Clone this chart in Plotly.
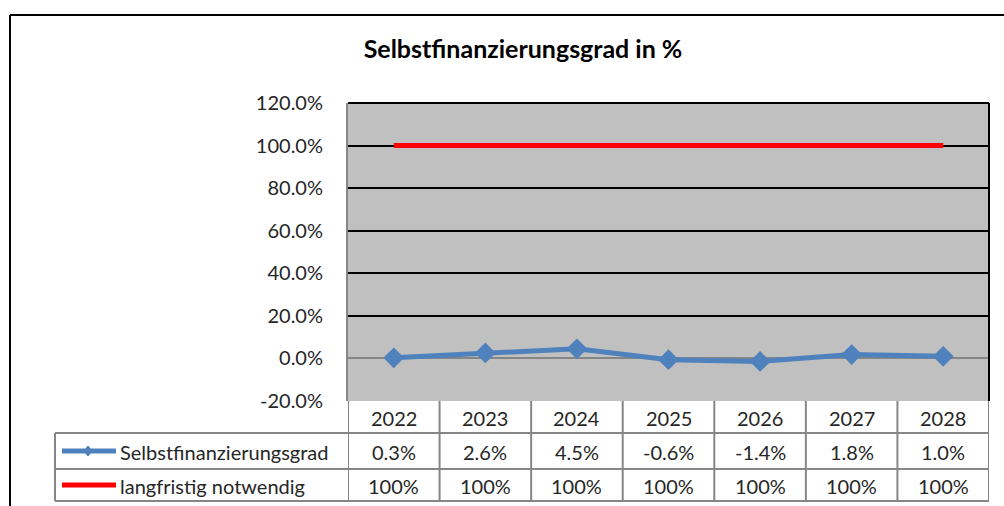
import plotly.graph_objects as go

years = ["2022", "2023", "2024", "2025", "2026", "2027", "2028"]
selbst = [0.3, 2.6, 4.5, -0.6, -1.4, 1.8, 1.0]
langfristig = [100, 100, 100, 100, 100, 100, 100]
selbst_labels = ["0.3%", "2.6%", "4.5%", "-0.6%", "-1.4%", "1.8%", "1.0%"]
lang_labels = ["100%", "100%", "100%", "100%", "100%", "100%", "100%"]
series_names = ["Selbstfinanzierungsgrad", "langfristig notwendig"]
title = "Selbstfinanzierungsgrad in %"
yticks = [-20, 0, 20, 40, 60, 80, 100, 120]

W, H = 1004, 506
L, R, T, B = 348, 989, 103, 401
PW, PH = R - L, B - T

def px(x):
    return (x - L) / PW

def py(y):
    return (B - y) / PH

BLUE = "#4F81BD"
RED = "#FF0000"
GRID_GRAY = "#868686"
TXT = "#262626"
FONT = "Lato, Carlito, Calibri, sans-serif"

xs = list(range(len(years)))

fig = go.Figure()
fig.add_trace(go.Scatter(x=xs, y=langfristig, mode="lines", line=dict(color=RED, width=5),
                         name=series_names[1], showlegend=False))
fig.add_trace(go.Scatter(x=xs, y=selbst, mode="lines+markers", line=dict(color=BLUE, width=5),
                         marker=dict(symbol="diamond", size=16, color=BLUE),
                         name=series_names[0], showlegend=False))

shapes = []
annotations = []

# outer chart border (left and top edges visible)
shapes.append(dict(type="line", xref="paper", yref="paper", x0=px(10), x1=px(1004),
                   y0=py(15), y1=py(15), line=dict(color="black", width=2)))
shapes.append(dict(type="line", xref="paper", yref="paper", x0=px(10), x1=px(10),
                   y0=py(15), y1=py(506), line=dict(color="black", width=2)))
# plot area top and right border
shapes.append(dict(type="line", xref="paper", yref="paper", x0=0, x1=1, y0=1, y1=1,
                   line=dict(color="black", width=2)))
shapes.append(dict(type="line", xref="paper", yref="paper", x0=1, x1=1, y0=0, y1=1,
                   line=dict(color="black", width=2)))

# data table lines
tl = dict(color=GRID_GRAY, width=2)
row_lines = [433, 469, 501]
for ry in row_lines:
    shapes.append(dict(type="line", xref="paper", yref="paper", x0=px(55), x1=1,
                       y0=py(ry), y1=py(ry), line=tl))
shapes.append(dict(type="line", xref="paper", yref="paper", x0=px(55), x1=px(55),
                   y0=py(433), y1=py(501), line=tl))
for i in range(len(years) + 1):
    shapes.append(dict(type="line", xref="x", yref="paper", x0=i - 0.5, x1=i - 0.5,
                       y0=py(501), y1=0, line=tl))

# legend keys
for ry, col in [(451, BLUE), (485, RED)]:
    shapes.append(dict(type="line", xref="paper", yref="paper", x0=px(62), x1=px(116),
                       y0=py(ry), y1=py(ry), line=dict(color=col, width=5)))
shapes.append(dict(type="path", xref="paper", yref="paper",
                   path=f"M {px(88)} {py(446)} L {px(92)} {py(451)} L {px(88)} {py(456)} L {px(84)} {py(451)} Z",
                   fillcolor=BLUE, line=dict(color=BLUE, width=1)))

# table text
tf = dict(family=FONT, size=20, color=TXT)
rows = [(418, years), (452, selbst_labels), (486, lang_labels)]
for ry, labels in rows:
    for i, lab in enumerate(labels):
        annotations.append(dict(x=i, y=py(ry), xref="x", yref="paper", text=lab,
                                showarrow=False, font=tf, xanchor="center", yanchor="middle"))
for ry, name in [(452, series_names[0]), (486, series_names[1])]:
    annotations.append(dict(x=px(118), y=py(ry), xref="paper", yref="paper", text=name,
                            showarrow=False, font=tf, xanchor="left", yanchor="middle"))

fig.update_layout(
    width=W, height=H, autosize=False,
    margin=dict(l=L, r=W - R, t=T, b=H - B, pad=0),
    paper_bgcolor="white", plot_bgcolor="#C0C0C0",
    title=dict(text=f"<b>{title}</b>", x=523 / W, y=1 - 49 / H, xref="container", yref="container",
               xanchor="center", yanchor="middle", font=dict(family=FONT, size=25, color="black")),
    xaxis=dict(range=[-0.5, len(years) - 0.5], showgrid=False, zeroline=False, showticklabels=False,
               showline=False, ticks="", fixedrange=True),
    yaxis=dict(range=[-20, 120], tickvals=yticks, ticktext=[f"{v:.1f}%" for v in yticks],
               showgrid=True, gridcolor="black", gridwidth=1.5, zeroline=True, zerolinecolor=GRID_GRAY,
               zerolinewidth=2, showline=True, linecolor=GRID_GRAY, linewidth=2, ticks="",
               ticklabelstandoff=19, tickfont=dict(family=FONT, size=20, color=TXT), fixedrange=True),
    shapes=shapes, annotations=annotations, showlegend=False,
)

fig.write_html("out.html", config={"displayModeBar": False},
               post_script="document.body.style.margin='0';document.body.style.overflow='hidden';")
